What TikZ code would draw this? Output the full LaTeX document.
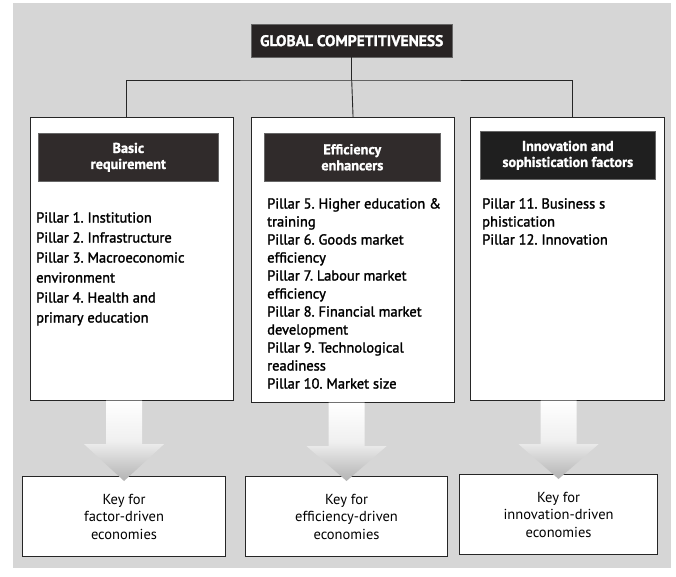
\documentclass[tikz,border=0pt]{standalone}
\usepackage{fontspec}
\setmainfont{PT Sans}
\newfontfamily\listfont[FakeBold=1.6]{PT Sans}
\newfontfamily\hdrfont[BoldFeatures={FakeBold=1.2}]{PT Sans}
\usetikzlibrary{calc}
\definecolor{bggray}{RGB}{214,214,214}
\definecolor{hdrdark}{RGB}{48,43,43}
\definecolor{titledark}{RGB}{40,36,36}
\frenchspacing
\begin{document}
\begin{tikzpicture}[x=1pt,y=-1pt,
  colbox/.style={draw=black!85,line width=1.1pt,fill=white,anchor=north west,inner sep=0pt},
  keybox/.style={draw=black!85,line width=1.1pt,fill=white,anchor=north west,inner sep=0pt,
     align=center,font=\fontsize{14.5}{17.5}\selectfont},
  hdrbox/.style={fill=hdrdark,draw=black!60,line width=0.6pt,anchor=north west,inner sep=0pt,
     text=white,align=center,font=\hdrfont\bfseries\fontsize{14.3}{16}\selectfont},
  listtext/.style={anchor=north west,inner sep=0pt,align=left,font=\listfont\fontsize{14.5}{18}\selectfont},
  conn/.style={draw=black!85,line width=0.9pt},
  arrowshade/.style={top color=white,bottom color=gray!60,middle color=white!88!gray}
]
\useasboundingbox (0,0) rectangle (676,577);
\fill[bggray] (13,3) rectangle (671,568);

% title
\node[fill=titledark,draw=black!60,anchor=north west,inner sep=0pt,minimum width=201pt,minimum height=33pt,
  text=white,font=\hdrfont\bfseries\fontsize{15.5}{17}\selectfont] (title) at (251,24) {GLOBAL COMPETITIVENESS};

% column boxes
\node[colbox,minimum width=203pt,minimum height=283pt] (colA) at (30,117) {};
\node[colbox,minimum width=203pt,minimum height=285pt] (colB) at (251,117) {};
\node[colbox,minimum width=194pt,minimum height=283pt] (colC) at (470,117) {};

% connectors
\coordinate (jy) at (0,80);
\coordinate (j) at (title.south |- jy);
\draw[conn] (title.south) -- (j);
\draw[conn] ([xshift=-6pt]colA.north) |- (j) -| ([xshift=5pt]colC.north);
\draw[conn] (j) -- (colB.north);

% headers
\node[hdrbox,minimum width=180pt,minimum height=48pt] (hdrA) at (38,133) {Basic\\requirement};
\node[hdrbox,minimum width=176pt,minimum height=48pt] (hdrB) at (264,133) {Efficiency\\enhancers};
\node[hdrbox,minimum width=175pt,minimum height=48pt,fill=black!88] (hdrC) at (480,131) {Innovation and\\sophistication factors};

% lists
\node[listtext,font=\listfont\fontsize{14.5}{20}\selectfont] (listA) at (36,212) {Pillar 1. Institution\\Pillar 2. Infrastructure\\Pillar 3. Macroeconomic\\environment\\Pillar 4. Health and\\primary education};
\node[listtext] (listB) at (267,198) {Pillar 5. Higher education \&\\training\\Pillar 6. Goods market\\efficiency\\Pillar 7. Labour market\\efficiency\\Pillar 8. Financial market\\development\\Pillar 9. Technological\\readiness\\Pillar 10. Market size};
\node[listtext] (listC) at (482,198) {Pillar 11. Business s\\phistication\\Pillar 12. Innovation};

% key boxes
\node[keybox,minimum width=203pt,minimum height=80pt] (keyA) at (22,476) {Key for\\factor-driven\\economies};
\node[keybox,minimum width=202pt,minimum height=80pt] (keyB) at (245,476) {Key for\\efficiency-driven\\economies};
\node[keybox,minimum width=198pt,minimum height=80pt] (keyC) at (459,474) {Key for\\innovation-driven\\economies};

% block arrows
\foreach \c/\k in {colA/keyA,colB/keyB,colC/keyC}{
  \coordinate (s) at (\c.south -| \k.north);
  \shade[arrowshade] ($(s)+(-18,-0.6)$) -- ($(s)+(-18,43)$) -- ($(s)+(-40,43)$) -- ($(\k.north)+(0,5)$)
     -- ($(s)+(40,43)$) -- ($(s)+(18,43)$) -- ($(s)+(18,-0.6)$) -- cycle;
}
\end{tikzpicture}
\end{document}
